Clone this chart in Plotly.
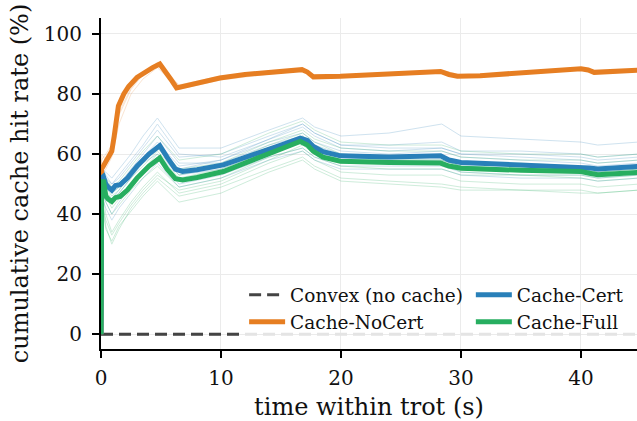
import plotly.graph_objects as go

# ---------------- data ----------------
# common time grid for individual trials (s)
trial_t = [0.0, 0.05, 0.4, 0.9, 1.5, 2.5, 3.5, 4.7, 6.5, 10, 14, 16.8, 17.8, 20, 24, 28.4, 30, 35, 40, 41.4, 44.8]

# individual trials, Cache-NoCert
nocert_trials = [
    [0, 58, 60, 63, 74, 82, 87, 90.5, 83, 86, 87.5, 88.5, 86.3, 86.2, 86.9, 87.9, 86.3, 87.4, 88.8, 87.6, 88.2],
    [0, 53, 55, 59, 70, 80, 85, 88.8, 81.6, 84.7, 86.6, 87.7, 85.4, 85.5, 86.1, 87.1, 85.5, 86.6, 88, 86.8, 87.5],
    [0, 60, 58, 62, 73, 81.5, 86.5, 90, 82.8, 85.6, 87.2, 88.3, 86, 86, 86.7, 87.7, 86, 87.2, 88.6, 87.4, 88.0],
]
# individual trials, Cache-Cert
cert_trials = [
    [0, 55, 54, 52, 55, 60, 66, 72, 62, 62, 68, 72, 69, 66, 67, 70, 66, 65, 64, 63, 64],
    [0, 50, 46, 44, 47, 52, 57, 63, 55, 58, 64, 67, 64, 61, 60, 61, 59, 58, 57, 56, 57],
    [0, 53, 51, 49, 50, 55, 60, 66, 57, 57, 63, 66, 63, 60, 59, 59, 57, 56, 55, 55, 56],
    [0, 48, 44, 40, 44, 49, 54, 59, 50, 53, 59, 62, 59, 56, 56, 56, 54, 53, 53, 52, 53],
    [0, 56, 53, 50, 52, 57, 62, 68, 59, 60, 66, 70, 67, 63, 62, 62, 60, 59, 58, 57, 58],
    [0, 46, 42, 38, 42, 47, 52, 57, 49, 52, 58, 61, 58, 55, 55, 55, 53, 52, 52, 51, 52],
    [0, 52, 49, 47, 49, 53, 57, 60, 53, 55, 61, 64, 61, 58, 58, 58, 56, 55, 55, 54, 55],
    [0, 54, 52, 50, 53, 58, 63, 70, 60, 59, 65, 69, 66, 62, 61, 62, 60, 60, 59, 58, 59],
    [0, 51, 47, 45, 48, 54, 59, 64, 56, 58, 65, 70, 67, 63, 63, 64, 61, 61, 60, 59, 60],
]
# individual trials, Cache-Full
full_trials = [
    [0, 50, 40, 34, 38, 44, 49, 54, 47, 50, 57, 61, 58, 54, 53, 53, 51, 50, 50, 49, 50],
    [0, 53, 48, 45, 47, 52, 56, 61, 53, 56, 63, 67, 64, 60, 59, 59, 57, 57, 56, 55, 56],
    [0, 47, 36, 30, 35, 42, 47, 52, 46, 49, 55, 59, 56, 52, 51, 50, 49, 48, 48, 47, 48],
    [0, 55, 50, 47, 49, 54, 58, 63, 55, 57, 64, 68, 65, 62, 61, 61, 59, 58, 58, 57, 58],
    [0, 49, 44, 40, 43, 48, 52, 56, 49, 52, 59, 62, 59, 56, 55, 55, 53, 53, 52, 51, 52],
    [0, 52, 46, 42, 45, 50, 55, 60, 52, 55, 61, 65, 62, 58, 58, 58, 56, 55, 55, 54, 55],
    [0, 45, 38, 33, 37, 43, 48, 53, 48, 51, 58, 63, 60, 57, 57, 57, 54, 53, 53, 52, 53],
    [0, 54, 49, 46, 48, 53, 57, 62, 54, 56, 62, 66, 63, 59, 58, 58, 56, 56, 55, 54, 55],
    [0, 56, 52, 49, 51, 56, 61, 66, 58, 60, 67, 71, 68, 64, 63, 63, 61, 60, 60, 59, 60],
    [0, 44, 35, 31, 36, 41, 46, 51, 44, 47, 54, 58, 55, 51, 50, 49, 48, 48, 47, 47, 48],
]

# mean curves
nocert_t = [0, 0.05, 0.2, 0.35, 0.5, 0.7, 0.9, 1.1, 1.45, 1.9, 2.3, 3.0, 3.7, 4.3, 4.9, 5.3, 5.8, 6.3, 7.0, 8.0,
            9.9, 12, 14, 15.8, 16.75, 17.2, 17.7, 19.95, 24, 28.3, 29.0, 29.7, 31.6, 36, 40, 40.6, 41.1, 44.8]
nocert_v = [0, 55, 56, 57, 58, 59, 61, 66, 76, 80, 82.5, 85.5, 87.5, 88.8, 90, 88, 85, 82, 82.6, 83.5,
            85.3, 86.5, 87.2, 87.9, 88.1, 87.3, 85.7, 85.9, 86.6, 87.5, 86.5, 85.9, 86.1, 87.2, 88.4, 88.0, 87.2, 87.9]

cert_t = [0, 0.05, 0.2, 0.4, 0.6, 0.9, 1.2, 1.6, 2.2, 3.0, 4.0, 4.9, 5.5, 6.2, 6.8, 8.0, 10.2, 13, 15, 16.6,
          17.2, 17.7, 18.5, 19.95, 24, 28.3, 29.0, 30, 35, 40, 40.7, 41.4, 44.8]
cert_v = [0, 52, 52.5, 50, 49, 48, 49.5, 49.8, 52, 56, 60, 62.8, 59, 55, 54.2, 54.8, 56.4, 60.5, 63, 65.3,
          64.5, 62.5, 60.8, 59.4, 59, 59.4, 58, 57.2, 56.5, 55.9, 55.4, 55, 55.9]

full_t = cert_t
full_v = [0, 50, 51.4, 46, 45, 44.2, 45.5, 45.9, 48, 52, 56, 58.7, 55, 51.8, 51.4, 52.2, 54.2, 58.5, 61.5, 64.2,
          63, 60.9, 59, 57.6, 57.2, 57, 56, 55.3, 54.6, 54.2, 53.6, 53.1, 53.9]

convex_t = [0, 12]
convex_v = [0, 0]
convex_trial_t = [0, 44.8]
convex_trial_v = [0, 0]

x_ticks = [0, 10, 20, 30, 40]
y_ticks = [0, 20, 40, 60, 80, 100]

# ---------------- styles ----------------
C_CONVEX = "#444444"
C_NOCERT = "#e67e22"
C_CERT = "#2980b9"
C_FULL = "#27ae60"
FONT = "DejaVu Serif"

fig = go.Figure()

# faint individual trials
fig.add_trace(go.Scatter(x=convex_trial_t, y=convex_trial_v, mode="lines",
                         line=dict(color="#e4e4e4", width=3, dash="12px,6px"),
                         showlegend=False, hoverinfo="skip"))
for tr in nocert_trials:
    fig.add_trace(go.Scatter(x=trial_t, y=tr, mode="lines",
                             line=dict(color=C_NOCERT, width=1), opacity=0.2,
                             showlegend=False, hoverinfo="skip"))
for tr in cert_trials:
    fig.add_trace(go.Scatter(x=trial_t, y=tr, mode="lines",
                             line=dict(color=C_CERT, width=1), opacity=0.22,
                             showlegend=False, hoverinfo="skip"))
for tr in full_trials:
    fig.add_trace(go.Scatter(x=trial_t, y=tr, mode="lines",
                             line=dict(color=C_FULL, width=1), opacity=0.22,
                             showlegend=False, hoverinfo="skip"))

# mean curves
fig.add_trace(go.Scatter(x=convex_t, y=convex_v, mode="lines", name="Convex (no cache)",
                         line=dict(color=C_CONVEX, width=3, dash="12px,6px"),
                         legend="legend", legendgroup="a"))
fig.add_trace(go.Scatter(x=nocert_t, y=nocert_v, mode="lines", name="Cache-NoCert",
                         line=dict(color=C_NOCERT, width=5),
                         legend="legend", legendgroup="b"))
fig.add_trace(go.Scatter(x=cert_t, y=cert_v, mode="lines", name="Cache-Cert",
                         line=dict(color=C_CERT, width=5),
                         legend="legend2", legendgroup="c"))
fig.add_trace(go.Scatter(x=full_t, y=full_v, mode="lines", name="Cache-Full",
                         line=dict(color=C_FULL, width=5),
                         legend="legend2", legendgroup="d"))

axis_common = dict(showline=True, linecolor="black", linewidth=2, ticks="outside",
                   ticklen=7, tickwidth=1.6, tickcolor="black", showgrid=True,
                   gridcolor="#ebebeb", gridwidth=1, zeroline=False, automargin=False,
                   tickfont=dict(family=FONT, size=20, color="#111111"))

legend_common = dict(orientation="v", yanchor="top", xanchor="left", itemwidth=36,
                     bgcolor="rgba(0,0,0,0)", font=dict(family=FONT, size=18.5),
                     tracegroupgap=0, traceorder="grouped")

fig.update_layout(
    width=637, height=421,
    margin=dict(l=101, r=0, t=18, b=72),
    plot_bgcolor="white", paper_bgcolor="white",
    font=dict(family=FONT, color="#111111"),
    xaxis=dict(range=[0, 44.67], tickvals=x_ticks, ticklabelstandoff=3,
               title=dict(text="time within trot (s)", font=dict(family=FONT, size=24), standoff=9),
               **axis_common),
    yaxis=dict(range=[-4.9, 105.3], tickvals=y_ticks, ticklabelstandoff=6,
               title=dict(text="cumulative cache hit rate (%)", font=dict(family=FONT, size=24), standoff=8),
               **axis_common),
    legend=dict(x=0.267, y=0.22, **legend_common),
    legend2=dict(x=0.690, y=0.22, **legend_common),
    showlegend=True,
    # legend frame background: hides gridlines behind the legend, below the traces
    shapes=[dict(type="rect", xref="paper", yref="paper", x0=0.259, x1=0.99, y0=0.06, y1=0.211,
                 fillcolor="rgba(255,255,255,0.85)", line=dict(width=0), layer="between")],
)

fig.write_html("out.html", post_script="document.body.style.margin='0';",
               config={"displayModeBar": False})
